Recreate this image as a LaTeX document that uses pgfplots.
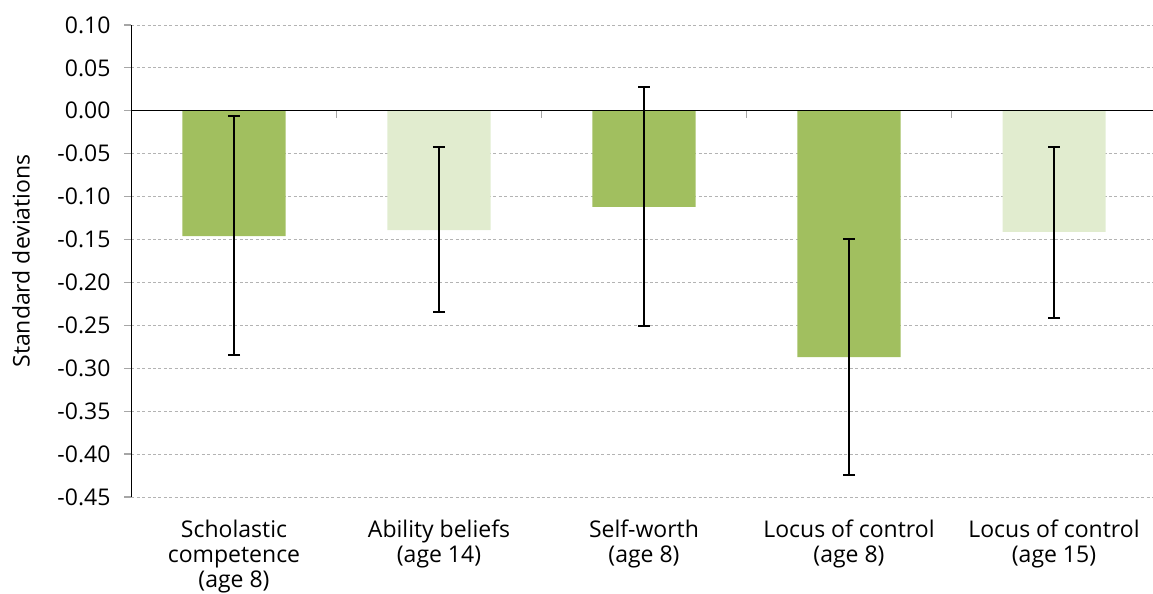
\documentclass[border=0pt]{standalone}
\usepackage{fontspec}
\setmainfont{Open Sans}
\usepackage{pgfplots}
\pgfplotsset{compat=1.18}
\usetikzlibrary{calc}
\definecolor{bardark}{HTML}{A1BF5F}
\definecolor{barlight}{HTML}{E1ECCF}
\definecolor{gridgray}{HTML}{A6A6A6}
\begin{document}
\fontsize{11.5pt}{12.5pt}\selectfont
\begin{tikzpicture}
\begin{axis}[
  name=ax,
  scale only axis,
  width=510.75pt, height=236pt,
  xmin=-0.5, xmax=4.483,
  ymin=-0.45, ymax=0.10,
  ytick={-0.45,-0.40,-0.35,-0.30,-0.25,-0.20,-0.15,-0.10,-0.05,0,0.05,0.10},
  yticklabel style={/pgf/number format/fixed, /pgf/number format/fixed zerofill,
    /pgf/number format/precision=2, /pgf/number format/assume math mode=true,
    xshift=-3pt},
  xtick={0,1,2,3,4},
  xticklabels={{Scholastic\\competence\\(age 8)},{Ability beliefs\\(age 14)},{Self-worth\\(age 8)},{Locus of control\\(age 8)},{Locus of control\\(age 15)}},
  xticklabel style={align=center, yshift=-4pt},
  major x tick style={draw=none},
  axis lines*=left,
  x axis line style={draw=none},
  y axis line style={black, line width=0.6pt, -},
  ytick style={gridgray, line width=0.6pt},
  tick align=outside,
  major tick length=3.5pt,
  ymajorgrids,
  grid style={gridgray!85, dash pattern=on 1.5pt off 1.2pt, line width=0.45pt},
  ylabel={Standard deviations},
  ylabel style={yshift=6pt},
  ybar, bar width=51.5pt,
  tick label style={font=\fontsize{11.5pt}{12.5pt}\selectfont},
  label style={font=\fontsize{11.5pt}{12.5pt}\selectfont},
  error bars/error bar style={black, line width=1pt},
  error bars/error mark options={rotate=90, mark size=3pt, line width=1pt, black},
  clip=false,
]
\addplot[bar shift=0pt, fill=bardark, draw=none,
  error bars/.cd, y dir=both, y explicit] coordinates {
  (0,-0.146) += (0,0.140) -= (0,0.139)
  (2,-0.112) += (0,0.140) -= (0,0.139)
  (3,-0.287) += (0,0.138) -= (0,0.137)
};
\addplot[bar shift=0pt, fill=barlight, draw=none,
  error bars/.cd, y dir=both, y explicit] coordinates {
  (1,-0.139) += (0,0.097) -= (0,0.096)
  (4,-0.141) += (0,0.099) -= (0,0.101)
};
\draw[black, line width=0.6pt] (axis cs:-0.5,0) -- (axis cs:4.483,0);
\pgfplotsinvokeforeach{0.5,1.5,2.5,3.5}{
  \draw[gridgray, line width=0.6pt] (axis cs:#1,0) -- ++(0pt,-3.5pt);
}
\end{axis}
\pgfresetboundingbox
\useasboundingbox ($(ax.south west)+(-65.75pt,-48.5pt)$) rectangle ($(ax.north east)+(0pt,12.5pt)$);
\end{tikzpicture}
\end{document}
